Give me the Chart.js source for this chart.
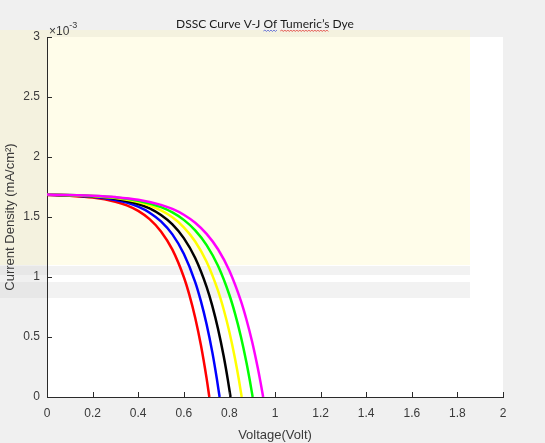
<!DOCTYPE html>
<html><head><meta charset="utf-8">
<script src="https://cdn.jsdelivr.net/npm/chart.js@4/dist/chart.umd.min.js"></script>
<style>html,body{margin:0;padding:0;background:#f0f0f0;overflow:hidden}canvas{display:block}</style>
</head><body>
<canvas id="c" width="545" height="443" style="width:545px;height:443px"></canvas>
<script>
// Data (current density in units of 1e-3 mA/cm^2)
const voltRed = [0,0.1,0.2,0.3,0.35,0.4,0.45,0.5,0.55,0.6,0.625,0.65,0.675,0.7,0.712];
const jRed = [1.684,1.677,1.662,1.627,1.597,1.551,1.482,1.380,1.228,1.000,0.847,0.661,0.433,0.155,0];
const voltBlue = [0,0.1,0.2,0.3,0.35,0.4,0.45,0.5,0.55,0.6,0.65,0.675,0.7,0.725,0.745,0.757];
const jBlue = [1.685,1.680,1.668,1.642,1.620,1.586,1.536,1.463,1.355,1.194,0.958,0.799,0.607,0.374,0.151,0];
const voltBlack = [0,0.1,0.2,0.3,0.4,0.45,0.5,0.55,0.6,0.65,0.7,0.725,0.75,0.775,0.793,0.805];
const jBlack = [1.686,1.681,1.672,1.651,1.608,1.571,1.516,1.438,1.324,1.158,0.918,0.760,0.569,0.339,0.145,0];
const voltYellow = [0,0.1,0.2,0.3,0.4,0.5,0.55,0.6,0.65,0.7,0.75,0.775,0.8,0.825,0.842,0.854];
const jYellow = [1.686,1.682,1.674,1.658,1.624,1.555,1.497,1.414,1.296,1.127,0.886,0.729,0.541,0.316,0.139,0];
const voltGreen = [0,0.1,0.2,0.3,0.4,0.5,0.55,0.6,0.65,0.7,0.75,0.8,0.825,0.85,0.875,0.89,0.902];
const jGreen = [1.686,1.683,1.676,1.663,1.636,1.582,1.538,1.476,1.389,1.266,1.093,0.850,0.693,0.507,0.286,0.133,0];
const voltMagenta = [0,0.1,0.2,0.3,0.4,0.5,0.55,0.6,0.65,0.7,0.75,0.8,0.85,0.875,0.9,0.925,0.936,0.948];
const jMagenta = [1.687,1.684,1.678,1.666,1.644,1.601,1.567,1.519,1.452,1.359,1.231,1.052,0.803,0.644,0.458,0.237,0.128,0];

const xTickValues = [0,0.2,0.4,0.6,0.8,1,1.2,1.4,1.6,1.8,2];
const xTickLabels = ['0','0.2','0.4','0.6','0.8','1','1.2','1.4','1.6','1.8','2'];
const yTickValues = [0,0.5,1,1.5,2,2.5,3];
const yTickLabels = ['0','0.5','1','1.5','2','2.5','3'];
const titleText = 'DSSC Curve V-J Of Tumeric\u2019s Dye';
const xTitle = 'Voltage(Volt)';
const yTitle = 'Current Density (mA/cm\u00B2)';

function pts(xs, ys){ return xs.map((x,i)=>({x:x, y:ys[i]})); }

const series = [
  {data: pts(voltMagenta, jMagenta), color:'#ff00ff'},
  {data: pts(voltGreen, jGreen), color:'#00ff00'},
  {data: pts(voltYellow, jYellow), color:'#ffff00'},
  {data: pts(voltBlack, jBlack), color:'#000000'},
  {data: pts(voltBlue, jBlue), color:'#0000ff'},
  {data: pts(voltRed, jRed), color:'#ff0000'}
];

const FONT = '"Liberation Sans", Arial, sans-serif';
const AXC = '#2a2a2a';
const TXT = '#3a3a3a';

const decor = {
  id:'decor',
  beforeDraw(chart){
    const c = chart.ctx, a = chart.chartArea;
    c.save();
    c.fillStyle = '#f0f0f0'; c.fillRect(0,0,chart.width,chart.height);
    c.fillStyle = '#ffffff'; c.fillRect(a.left,a.top,a.right-a.left,a.bottom-a.top);
    // faint watermark tint
    c.fillStyle = 'rgba(255,248,180,0.28)'; c.fillRect(0,30,470,235);
    c.fillStyle = 'rgba(205,205,205,0.25)';
    c.fillRect(0,266,470,9);
    c.fillRect(0,282,470,16);
    c.restore();
  },
  afterDraw(chart){
    const c = chart.ctx, a = chart.chartArea;
    const xs = chart.scales.x, ys = chart.scales.y;
    c.save();
    c.strokeStyle = AXC; c.lineWidth = 1;
    c.beginPath();
    xTickValues.forEach(v=>{ const p = Math.round(xs.getPixelForValue(v))+0.5; c.moveTo(p,a.bottom); c.lineTo(p,a.bottom-5); });
    yTickValues.forEach(v=>{ const p = Math.round(ys.getPixelForValue(v))+0.5; c.moveTo(a.left,p); c.lineTo(a.left+5,p); });
    c.stroke();
    // exponent label
    c.fillStyle = TXT; c.textBaseline = 'alphabetic'; c.textAlign = 'left';
    c.font = '12px ' + FONT;
    c.fillText('\u00D710', a.left+2, a.top-2);
    const w = c.measureText('\u00D710').width;
    c.font = '9px ' + FONT;
    c.fillText('-3', a.left+2+w, a.top-9);
    // title
    c.font = '12px Lato, "Open Sans", sans-serif';
    c.fillStyle = '#1a1a1a';
    const tw = c.measureText(titleText).width;
    const tx = 265 - tw/2, ty = 28;
    c.fillText(titleText, tx, ty);
    function squiggle(sub, color){
      const i = titleText.indexOf(sub);
      const x0 = tx + c.measureText(titleText.slice(0,i)).width;
      const x1 = x0 + c.measureText(sub).width;
      c.strokeStyle = color; c.lineWidth = 0.8; c.beginPath();
      let up = true; c.moveTo(x0, ty+3);
      for(let x=x0+1.5; x<=x1; x+=1.5){ c.lineTo(x, up? ty+2 : ty+3.5); up=!up; }
      c.stroke();
    }
    squiggle('Of', '#4a5bd6');
    squiggle('Tumeric\u2019s', '#e03030');
    c.restore();
  }
};

new Chart(document.getElementById('c'), {
  type:'line',
  data:{ datasets: series.map(s=>({data:s.data, borderColor:s.color, backgroundColor:s.color, borderWidth:2.5, pointRadius:0, fill:false, cubicInterpolationMode:'monotone'})) },
  options:{
    responsive:false, animation:false, devicePixelRatio:1,
    layout:{padding:{left:0,right:42,top:37,bottom:0}},
    plugins:{legend:{display:false}, tooltip:{enabled:false}, title:{display:false}},
    scales:{
      x:{type:'linear', min:0, max:2,
        afterFit:s=>{s.height=46;},
        afterBuildTicks:s=>{s.ticks = xTickValues.map(v=>({value:v}));},
        grid:{display:false, drawTicks:false},
        border:{display:true, color:AXC, width:1},
        ticks:{padding:9, color:TXT, font:{family:FONT, size:12}, maxRotation:0, autoSkip:false,
          callback:(v,i)=>xTickLabels[i]},
        title:{display:true, text:xTitle, color:TXT, font:{family:FONT, size:13}, padding:{top:0,bottom:0}}
      },
      y:{type:'linear', min:0, max:3,
        afterFit:s=>{s.width=47;},
        afterBuildTicks:s=>{s.ticks = yTickValues.map(v=>({value:v}));},
        grid:{display:false, drawTicks:false},
        border:{display:true, color:AXC, width:1},
        ticks:{padding:7, color:TXT, font:{family:FONT, size:12}, autoSkip:false,
          callback:(v,i)=>yTickLabels[i]},
        title:{display:true, text:yTitle, color:TXT, font:{family:FONT, size:13}, padding:{top:3,bottom:0}}
      }
    }
  },
  plugins:[decor]
});
</script>
</body></html>
